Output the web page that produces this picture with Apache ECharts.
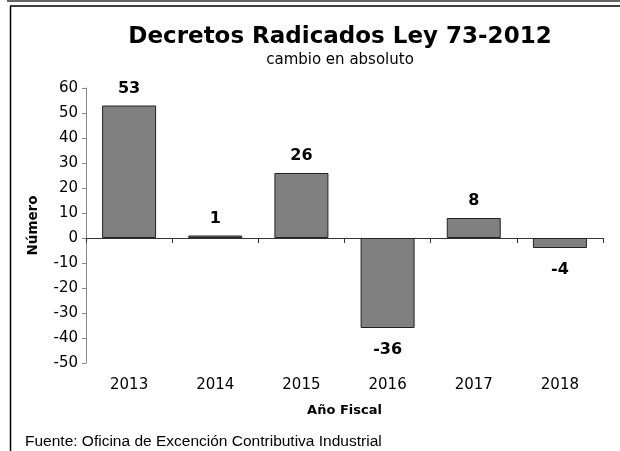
<!DOCTYPE html>
<html>
<head>
<meta charset="utf-8">
<script src="https://cdn.jsdelivr.net/npm/echarts@6/dist/echarts.min.js"></script>
<style>
  html, body { margin: 0; padding: 0; background: #fff; }
  #chart { width: 620px; height: 451px; }
</style>
</head>
<body>
<div id="chart"></div>
<script>
// datos
const years = ['2013', '2014', '2015', '2016', '2017', '2018'];
const cambio = [53, 1, 26, -36, 8, -4];
const yMin = -50;
const yMax = 60;
const yStep = 10;

const myChart = echarts.init(document.getElementById('chart'));

const option = {
    animation: false,
    backgroundColor: '#fff',
    title: [
        {
            text: 'Decretos Radicados Ley 73-2012',
            subtext: 'cambio en absoluto',
            left: 335,
            top: 21,
            textAlign: 'center',
            itemGap: 4,
            textStyle: {
                fontFamily: 'DejaVu Sans',
                fontSize: 23,
                fontWeight: 'bold',
                color: '#000'
            },
            subtextStyle: {
                fontFamily: 'DejaVu Sans',
                fontSize: 15,
                color: '#000'
            }
        },
        {
            text: 'Fuente: Oficina de Excención Contributiva Industrial',
            left: 20,
            top: 429,
            textStyle: {
                fontFamily: 'Liberation Sans, Arial',
                fontSize: 15.5,
                fontWeight: 'normal',
                color: '#000'
            }
        }
    ],
    grid: {
        left: 86,
        right: 17,
        top: 88,
        bottom: 88
    },
    xAxis: [
        {
            // linea del cero con marcas
            type: 'category',
            data: years,
            axisLine: {
                onZero: true,
                lineStyle: { color: '#333', width: 1 }
            },
            axisTick: {
                show: true,
                length: 5,
                inside: false,
                lineStyle: { color: '#333' }
            },
            axisLabel: { show: false },
            splitLine: { show: false }
        },
        {
            // etiquetas abajo
            type: 'category',
            data: years,
            position: 'bottom',
            axisLine: { show: false, onZero: false },
            axisTick: { show: false },
            axisLabel: {
                margin: 15,
                fontFamily: 'DejaVu Sans',
                fontSize: 15,
                color: '#000'
            },
            name: 'Año Fiscal',
            nameLocation: 'middle',
            nameGap: 41,
            nameTextStyle: {
                fontFamily: 'DejaVu Sans',
                fontSize: 13,
                fontWeight: 'bold',
                color: '#000'
            },
            splitLine: { show: false }
        }
    ],
    yAxis: {
        type: 'value',
        min: yMin,
        max: yMax,
        interval: yStep,
        name: 'Número',
        nameLocation: 'middle',
        nameGap: 46,
        nameTextStyle: {
            fontFamily: 'DejaVu Sans',
            fontSize: 13.5,
            fontWeight: 'bold',
            color: '#000'
        },
        axisLine: {
            show: true,
            lineStyle: { color: '#888' }
        },
        axisTick: {
            show: true,
            length: 4,
            lineStyle: { color: '#888' }
        },
        axisLabel: {
            margin: 8,
            fontFamily: 'DejaVu Sans',
            fontSize: 15,
            color: '#000'
        },
        splitLine: { show: false }
    },
    graphic: [
        { type: 'line', shape: { x1: 7, y1: 1, x2: 620, y2: 1 }, style: { stroke: '#666', lineWidth: 2 } },
        { type: 'line', shape: { x1: 10, y1: 6, x2: 620, y2: 6 }, style: { stroke: '#000', lineWidth: 1.5 } },
        { type: 'line', shape: { x1: 10.5, y1: 6, x2: 10.5, y2: 451 }, style: { stroke: '#000', lineWidth: 1.5 } }
    ],
    series: [
        {
            type: 'bar',
            xAxisIndex: 0,
            barWidth: 54,
            itemStyle: {
                color: '#808080',
                borderColor: '#222',
                borderWidth: 1
            },
            label: {
                show: true,
                fontFamily: 'DejaVu Sans',
                fontSize: 16,
                fontWeight: 'bold',
                color: '#000'
            },
            data: cambio.map(function (v) {
                return {
                    value: v,
                    label: v < 0
                        ? { position: 'bottom', distance: 14 }
                        : { position: 'top', distance: 9 }
                };
            })
        }
    ]
};

option && myChart.setOption(option);
</script>
</body>
</html>
